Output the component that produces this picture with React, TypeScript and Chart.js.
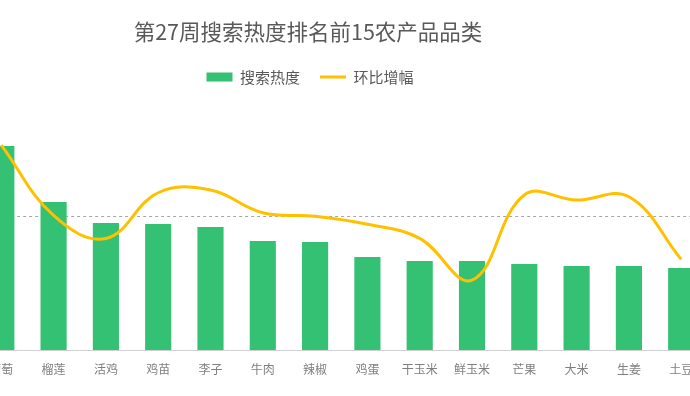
import React, { useEffect, useRef } from "react";
import { Chart, registerables } from "chart.js";

Chart.register(...registerables);

const TITLE = "第27周搜索热度排名前15农产品品类";
const categories = ["葡萄", "榴莲", "活鸡", "鸡苗", "李子", "牛肉", "辣椒", "鸡蛋", "干玉米", "鲜玉米", "芒果", "大米", "生姜", "土豆"];
const searchHeat = [204, 148, 127, 126, 123, 109, 108, 93, 89, 89, 86, 84, 84, 82];
const momGrowth = [32.0, 0.4, -9.9, 10.6, 11.8, 1.6, 0.1, -3.5, -9.9, -28.6, 9.6, 7.3, 8.8, -19.3];
const seriesNames = ["搜索热度", "环比增幅"];

const GREEN = "#34c174";
const YELLOW = "#ffc000";
const FONT = "'Noto Sans CJK SC', 'Noto Sans', sans-serif";

const legendShift = {
  id: "legendShift",
  beforeInit(chart: any) {
    const legend = chart.legend;
    if (!legend) return;
    const origDraw = legend.draw;
    legend.draw = function (this: any) {
      const ctx = chart.ctx;
      ctx.save();
      ctx.translate(2, -10.5);
      origDraw.call(this);
      ctx.restore();
    };
  },
};

export default function App() {
  const ref = useRef<HTMLCanvasElement | null>(null);

  useEffect(() => {
    if (!ref.current) return;
    const chart = new Chart(ref.current, {
      data: {
        labels: categories,
        datasets: [
          {
            type: "bar",
            label: seriesNames[0],
            data: searchHeat,
            backgroundColor: GREEN,
            borderWidth: 0,
            categoryPercentage: 1,
            barPercentage: 0.5,
            yAxisID: "y",
            order: 2,
          },
          {
            type: "line",
            label: seriesNames[1],
            data: momGrowth,
            borderColor: YELLOW,
            borderWidth: 3,
            pointRadius: 0,
            tension: 0.4,
            fill: false,
            yAxisID: "y2",
            order: 1,
          },
        ],
      } as any,
      options: {
        responsive: false,
        animation: false,
        devicePixelRatio: 1,
        layout: { padding: 0 },
        plugins: {
          title: {
            display: true,
            text: TITLE,
            color: "#595959",
            font: { family: FONT, size: 21.5, weight: "normal" },
            padding: { top: 19, bottom: 15.2 },
          },
          legend: {
            display: true,
            labels: {
              usePointStyle: true,
              pointStyleWidth: 26,
              boxHeight: 9,
              padding: 20,
              color: "#595959",
              font: { family: FONT, size: 15 },
              generateLabels: () => [
                {
                  text: seriesNames[0],
                  fillStyle: GREEN,
                  strokeStyle: GREEN,
                  lineWidth: 0,
                  pointStyle: "rect",
                  datasetIndex: 0,
                  hidden: false,
                  fontColor: "#595959",
                },
                {
                  text: seriesNames[1],
                  fillStyle: YELLOW,
                  strokeStyle: YELLOW,
                  lineWidth: 3,
                  pointStyle: "line",
                  datasetIndex: 1,
                  hidden: false,
                  fontColor: "#595959",
                },
              ],
            },
          },
          tooltip: { enabled: false },
        },
        scales: {
          x: {
            offset: true,
            grid: { display: false, drawTicks: false },
            border: { display: true, color: "#d0d0d0", width: 1 },
            ticks: {
              color: "#7f7f7f",
              font: { family: FONT, size: 12 },
              padding: 12.5,
              maxRotation: 0,
              autoSkip: false,
            },
            afterFit: (s: any) => {
              s.height = 46;
            },
          },
          y: {
            position: "left",
            min: 0,
            max: 245,
            grid: { display: false, drawTicks: false },
            ticks: { display: false },
            border: { display: false },
            afterFit: (s: any) => {
              s.width = 75.15;
            },
          },
          y2: {
            position: "right",
            min: -60,
            max: 50,
            ticks: { display: false, stepSize: 10 },
            grid: {
              drawTicks: false,
              lineWidth: 1,
              color: (ctx: any) => (ctx.tick && ctx.tick.value === 0 ? "#a6a6a6" : "rgba(0,0,0,0)"),
            },
            border: { display: false, dash: [3, 3] },
            afterFit: (s: any) => {
              s.width = 8.65;
            },
          },
        },
      } as any,
      plugins: [legendShift],
    });
    return () => chart.destroy();
  }, []);

  return (
    <div style={{ position: "fixed", left: 0, top: 0, width: 690, height: 396, overflow: "hidden", background: "#fff" }}>
      <canvas ref={ref} width={816} height={396} style={{ position: "absolute", left: -100, top: 0, width: 816, height: 396 }} />
    </div>
  );
}
